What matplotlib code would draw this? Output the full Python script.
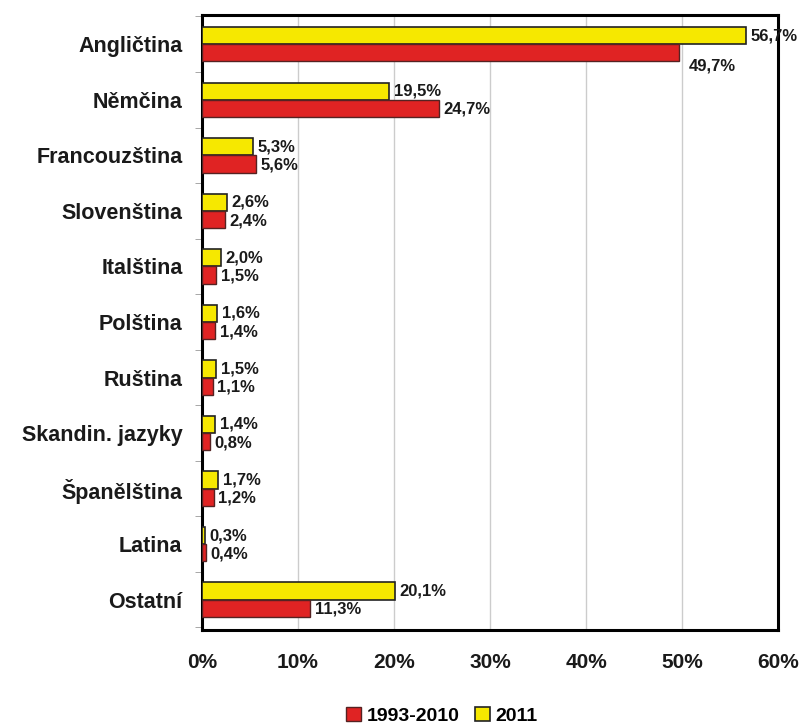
import matplotlib.pyplot as plt
import numpy as np
from matplotlib.ticker import FixedLocator

plt.rcParams['font.family'] = ['Liberation Sans', 'DejaVu Sans']

# data
jazyky = ['Angličtina', 'Němčina', 'Francouzština', 'Slovenština', 'Italština',
          'Polština', 'Ruština', 'Skandin. jazyky', 'Španělština', 'Latina', 'Ostatní']
r2011 = [56.7, 19.5, 5.3, 2.6, 2.0, 1.6, 1.5, 1.4, 1.7, 0.3, 20.1]
r1993_2010 = [49.7, 24.7, 5.6, 2.4, 1.5, 1.4, 1.1, 0.8, 1.2, 0.4, 11.3]
xticks = [0, 10, 20, 30, 40, 50, 60]

zluta = '#f6e800'
cervena = '#e02323'
h = 0.31

fig = plt.figure(figsize=(8.08, 7.28), dpi=100)
ax = fig.add_axes([0.25, 0.135, 0.713, 0.844])

y = np.arange(len(jazyky))
ax.barh(y - h/2, r2011, height=h, color=zluta, edgecolor='#222222', linewidth=1.2, zorder=3, label='2011')
ax.barh(y + h/2, r1993_2010, height=h, color=cervena, edgecolor='#552222', linewidth=1.0, zorder=3, label='1993-2010')

# popisky hodnot
for i in range(len(jazyky)):
    t = ('%.1f%%' % r2011[i]).replace('.', ',')
    ax.text(r2011[i] + 0.45, y[i] - h/2, t, va='center', ha='left', fontsize=12,
            fontweight='bold', color='#1a1a1a', clip_on=False, zorder=4)
    t = ('%.1f%%' % r1993_2010[i]).replace('.', ',')
    if i == 0:
        ax.text(r1993_2010[i] + 1.0, y[i] + h/2 + 0.23, t, va='center', ha='left', fontsize=12,
                fontweight='bold', color='#1a1a1a', zorder=4)
    else:
        ax.text(r1993_2010[i] + 0.45, y[i] + h/2 + 0.02, t, va='center', ha='left', fontsize=12,
                fontweight='bold', color='#1a1a1a', zorder=4)

ax.set_xlim(0, 60)
ax.set_ylim(len(jazyky) - 0.46, -0.52)
ax.set_xticks(xticks)
ax.set_xticklabels([str(v) + '%' for v in xticks], fontsize=15, fontweight='bold', color='#1a1a1a')
ax.tick_params(axis='x', length=0, pad=17)

ax.set_yticks(y)
ax.set_yticklabels(jazyky, fontsize=15.5, fontweight='bold', color='#1a1a1a')
ax.tick_params(axis='y', which='major', length=0, pad=14)
ax.yaxis.set_minor_locator(FixedLocator(np.arange(-0.5, len(jazyky), 1.0)))
ax.tick_params(axis='y', which='minor', length=5, color='#999999')

ax.grid(axis='x', color='#cccccc', linewidth=1, zorder=0)
for s in ax.spines.values():
    s.set_linewidth(2.2)
    s.set_color('black')

handles, labels = ax.get_legend_handles_labels()
fig.legend(handles[::-1], labels[::-1], loc='center', bbox_to_anchor=(0.547, 0.017), ncol=2,
           frameon=False, prop={'size': 14, 'weight': 'bold'}, handlelength=0.75, handleheight=0.75,
           handletextpad=0.3, columnspacing=0.8)

fig.savefig('out.png', dpi=100)
